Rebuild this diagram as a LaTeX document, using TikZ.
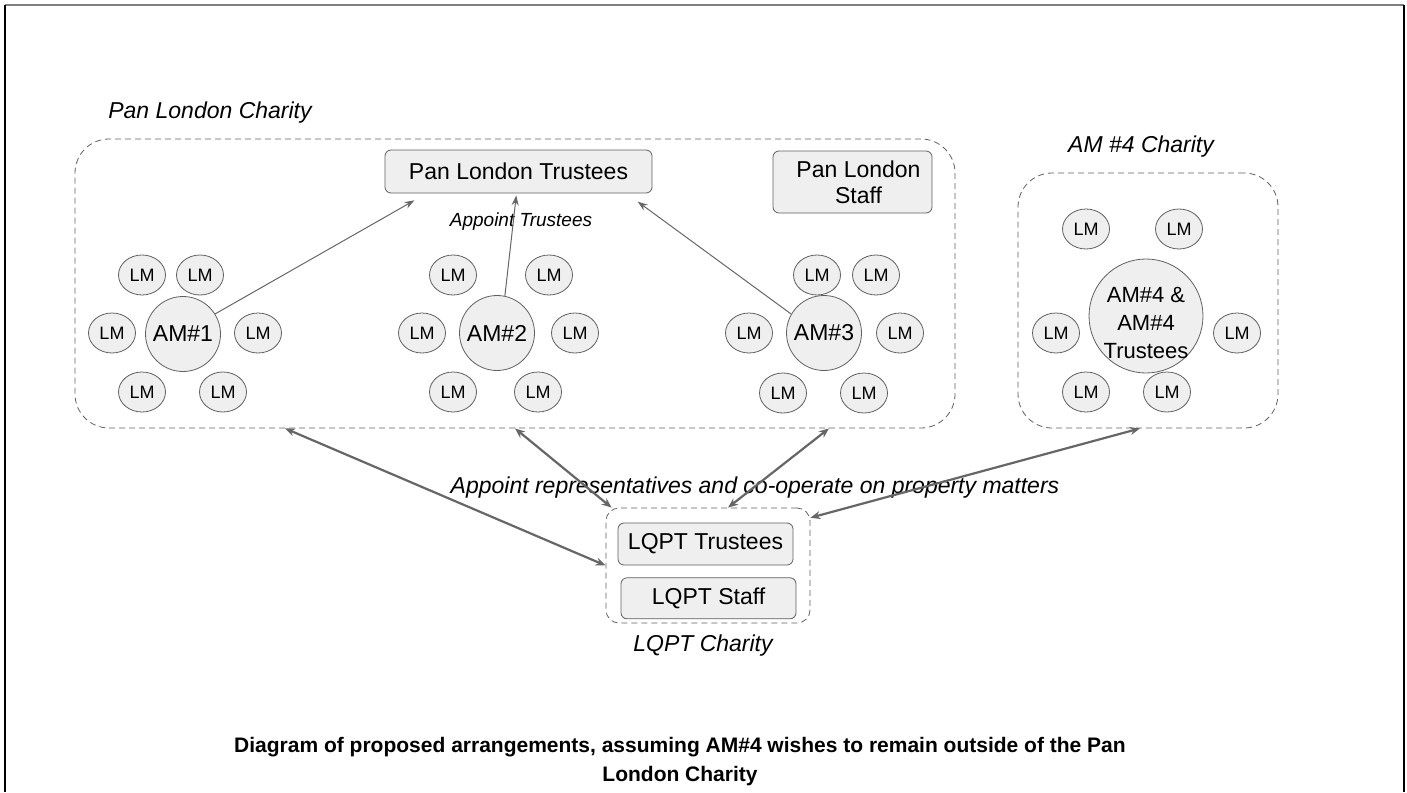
\documentclass[tikz,border=0pt]{standalone}
\usepackage{fontspec}
\setmainfont{Liberation Sans}
\usetikzlibrary{positioning, shapes.geometric, arrows.meta}

\definecolor{boxfill}{HTML}{EFEFEF}
\definecolor{boxline}{HTML}{5F5F5F}
\definecolor{arrowgray}{HTML}{666666}

\tikzset{
  lm/.style={ellipse, draw=boxline, fill=boxfill, minimum width=23.5pt, minimum height=20pt, inner sep=0pt, font=\fontsize{9}{10}\selectfont},
  am/.style={circle, draw=boxline, fill=boxfill, minimum size=37.5pt, inner sep=0pt, font=\fontsize{11.5}{13}\selectfont},
  group/.style={rectangle, rounded corners=3pt, draw=boxline, fill=boxfill, inner sep=0pt, font=\fontsize{11.5}{13}\selectfont},
  charity/.style={rectangle, draw=boxline, dash pattern=on 3pt off 2pt, rounded corners=17pt, inner sep=0pt},
  chtitle/.style={font=\fontsize{11.5}{13}\selectfont\itshape},
  appoint/.style={-{Stealth[length=5pt,width=3.5pt]}, arrowgray, line width=0.5pt},
  link/.style={{Stealth[length=5pt,width=4pt]}-{Stealth[length=5pt,width=4pt]}, arrowgray, line width=1.1pt},
}

\begin{document}
\begin{tikzpicture}[x=0.5pt, y=-0.5pt]
			\useasboundingbox (0,0) rectangle (1407,792);
			% frame
			\draw[gray, line width=0.6pt] (5,5) -- (1404,5);
			\draw[line width=1.2pt] (5,5) -- (5,792) (1404,5) -- (1404,792);

			% Pan London charity
			\node[charity, minimum width=440pt, minimum height=144.5pt] (plc) at (515,283.5) {};
			\node[chtitle] (plclabel) at (210,113) {Pan London Charity};
			\node[group, minimum width=133.5pt, minimum height=21.5pt] (plt) at (518.5,171.5) {Pan London Trustees};
			\node[group, minimum width=79.5pt, minimum height=31pt, align=center] (pls) at (852.5,182) {\hspace{6pt}Pan London\\\hspace{6pt}Staff};
			\node[font=\fontsize{9.5}{11}\selectfont\itshape] (apptr) at (521,222) {Appoint Trustees};

			\node[am] (am1) at (183,334) {AM\#1};
			\node[lm] (lm1a) at (142,275) {LM};
			\node[lm] (lm1b) at (200,275) {LM};
			\node[lm] (lm1c) at (112,333) {LM};
			\node[lm] (lm1d) at (258,333) {LM};
			\node[lm] (lm1e) at (142,392) {LM};
			\node[lm] (lm1f) at (223,392) {LM};

			\node[am] (am2) at (497,333) {AM\#2};
			\node[lm] (lm2a) at (453,275) {LM};
			\node[lm] (lm2b) at (549,275) {LM};
			\node[lm] (lm2c) at (422,333) {LM};
			\node[lm] (lm2d) at (575,333) {LM};
			\node[lm] (lm2e) at (453,392) {LM};
			\node[lm] (lm2f) at (538,392) {LM};

			\node[am] (am3) at (824,333) {AM\#3};
			\node[lm] (lm3a) at (817,275) {LM};
			\node[lm] (lm3b) at (876,275) {LM};
			\node[lm] (lm3c) at (749,333) {LM};
			\node[lm] (lm3d) at (900,333) {LM};
			\node[lm] (lm3e) at (783,393) {LM};
			\node[lm] (lm3f) at (864,393) {LM};

			% AM#4 charity
			\node[charity, minimum width=130pt, minimum height=127.5pt] (amc) at (1148,300.5) {};
			\node[chtitle] (amclabel) at (1141,147) {AM \#4 Charity};
			\node[am, minimum size=57pt, label={[yshift=-3.5pt, align=center, font=\fontsize{11}{14}\selectfont]center:AM\#4 \&\\AM\#4\\Trustees}] (am4) at (1146,316) {};
			\node[lm] (lm4a) at (1086,229) {LM};
			\node[lm] (lm4b) at (1179,229) {LM};
			\node[lm] (lm4c) at (1056,333) {LM};
			\node[lm] (lm4d) at (1237,333) {LM};
			\node[lm] (lm4e) at (1086,392) {LM};
			\node[lm] (lm4f) at (1167,392) {LM};

			% LQPT charity
			\node[charity, rounded corners=6.5pt, minimum width=102pt, minimum height=57.5pt] (lqpt) at (708,565.5) {};
			\node[group, minimum width=87.5pt, minimum height=21pt] (lqptt) at (705.5,544) {LQPT Trustees};
			\node[group, minimum width=87.5pt, minimum height=20.5pt, below=6pt of lqptt, xshift=1.5pt] (lqpts) {LQPT Staff};
			\node[chtitle, below=2pt of lqpt, xshift=-2.5pt] (lqptlabel) {LQPT Charity};
			\node[chtitle] (coop) at (755,488) {Appoint representatives and co-operate on property matters};

			% appointing trustees
			\draw[appoint, shorten >=7pt] (am1.32) -- ([xshift=21pt]plt.south west);
			\draw[appoint, shorten >=1pt] (am2.78) -- ([xshift=-1pt]plt.south);
			\draw[appoint, shorten >=7pt] (am3.150) -- ([xshift=-13pt]plt.south east);

			% links to LQPT
			\draw[link] ([xshift=-115pt]plc.south) -- (lqpt.west);
			\draw[link] (plc.south) -- ([xshift=3pt]lqpt.north west);
			\draw[link] ([xshift=157pt]plc.south) -- ([xshift=10pt]lqpt.north);
			\draw[link] ([xshift=-4pt]amc.south) -- (lqpt.25);

			\node[align=center, font=\fontsize{10.5}{14.5}\selectfont\bfseries] (caption) at (680,762) {Diagram of proposed arrangements, assuming AM\#4 wishes to remain outside of the Pan\\London Charity};
		\end{tikzpicture}
\end{document}
